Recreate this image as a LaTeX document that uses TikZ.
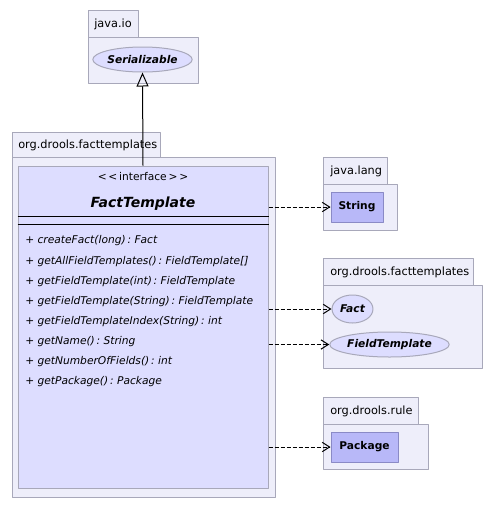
\documentclass[tikz,border=0pt]{standalone}
\usepackage{fontspec}
\setmainfont{DejaVu Sans}
\usetikzlibrary{arrows.meta,shapes.geometric}
\definecolor{pkgfill}{HTML}{EEEEFA}
\definecolor{pkgline}{HTML}{A8A8BA}
\definecolor{clsfill}{HTML}{DDDDFF}
\definecolor{reffill}{HTML}{B8B8F8}
\definecolor{refline}{HTML}{8A8AC6}

\begin{document}
\begin{tikzpicture}[x=0.75pt,y=-0.75pt,line join=round,
  pkg/.style={fill=pkgfill,draw=pkgline,line width=0.75pt},
  pkgname/.style={anchor=west,inner sep=0pt,font=\fontsize{8.5}{10}\selectfont},
  ifc/.style={ellipse,fill=clsfill,draw=pkgline,line width=0.75pt,inner sep=0pt,
    font=\bfseries\itshape\fontsize{8}{10}\selectfont},
  ref/.style={rectangle,fill=reffill,draw=refline,line width=0.75pt,inner sep=0pt,
    minimum height=22.5pt,font=\bfseries\fontsize{8}{10}\selectfont},
  meth/.style={anchor=west,inner sep=0pt,font=\itshape\fontsize{8}{10}\selectfont},
  dep/.style={dashed,dash pattern=on 3pt off 1.5pt,line width=0.75pt,
    -{Straight Barb[length=5.5pt,width=7pt]}},
  inh/.style={line width=0.75pt,-{Triangle[open,length=10.5pt,width=9pt]}}]
  \useasboundingbox (0,0) rectangle (493,508);
  % packages: tab, then body
  \draw[pkg] (88,10) rectangle (138,37);
  \draw[pkg] (88,37) rectangle (198,83);
  \node[pkgname] (pio) at (94,24) {java.io};
  \draw[pkg] (12,132) rectangle (160,157);
  \draw[pkg] (12,157) rectangle (275,497);
  \node[pkgname] (pft) at (18,145) {org.drools.facttemplates};
  \draw[pkg] (323,157) rectangle (387,184);
  \draw[pkg] (323,184) rectangle (397,230);
  \node[pkgname] (plang) at (330,171) {java.lang};
  \draw[pkg] (323,258) rectangle (473,285);
  \draw[pkg] (323,285) rectangle (482,368);
  \node[pkgname] (pft2) at (330,272) {org.drools.facttemplates};
  \draw[pkg] (323,397) rectangle (418,424);
  \draw[pkg] (323,424) rectangle (428,469);
  \node[pkgname] (prule) at (330,411) {org.drools.rule};
  % referenced types
  \node[ifc,minimum width=71.25pt,minimum height=18.75pt] (ser) at (142.5,59.5) {Serializable};
  \node[ref,minimum width=39pt] (str) at (357,207) {String};
  \node[ifc,minimum width=30.75pt,minimum height=21pt] (fact) at (352.5,309) {Fact};
  \node[ifc,minimum width=86.25pt,minimum height=18.75pt] (ftpl) at (389.5,344.5) {FieldTemplate};
  \node[ref,minimum width=50.25pt] (pack) at (364.5,447) {Package};
  % the interface
  \node[fill=clsfill,draw=pkgline,line width=0.75pt,inner sep=0pt,
    minimum width=187.5pt,minimum height=241.5pt] (ft) at (143,327) {};
  \node[font=\fontsize{8}{10}\selectfont] (stereo) at (143,177) {<\,<\,interface\,>\,>};
  \node[font=\bfseries\itshape\fontsize{10.5}{12}\selectfont] (ftname) at (143,204) {FactTemplate};
  \draw[line width=0.75pt] (ft.west |- 0,216) -- (ft.east |- 0,216);
  \draw[line width=0.75pt] (ft.west |- 0,224) -- (ft.east |- 0,224);
  \foreach \m [count=\i from 0] in {{createFact(long)\,:\ Fact},
      {getAllFieldTemplates()\,:\ FieldTemplate[]},
      {getFieldTemplate(int)\,:\ FieldTemplate},
      {getFieldTemplate(String)\,:\ FieldTemplate},
      {getFieldTemplateIndex(String)\,:\ int},
      {getName()\,:\ String},
      {getNumberOfFields()\,:\ int},
      {getPackage()\,:\ Package}}
    \node[meth] (m\i) at (25,241+20.1*\i) {+ \m};
  % connectors
  \draw[inh] (ft.north) -- (ser.south);
  \draw[dep] (ft.east |- str.west) -- (str.west);
  \draw[dep] (ft.east |- fact.west) -- (fact.west);
  \draw[dep] (ft.east |- ftpl.west) -- (ftpl.west);
  \draw[dep] (ft.east |- pack.west) -- (pack.west);
\end{tikzpicture}
\end{document}
